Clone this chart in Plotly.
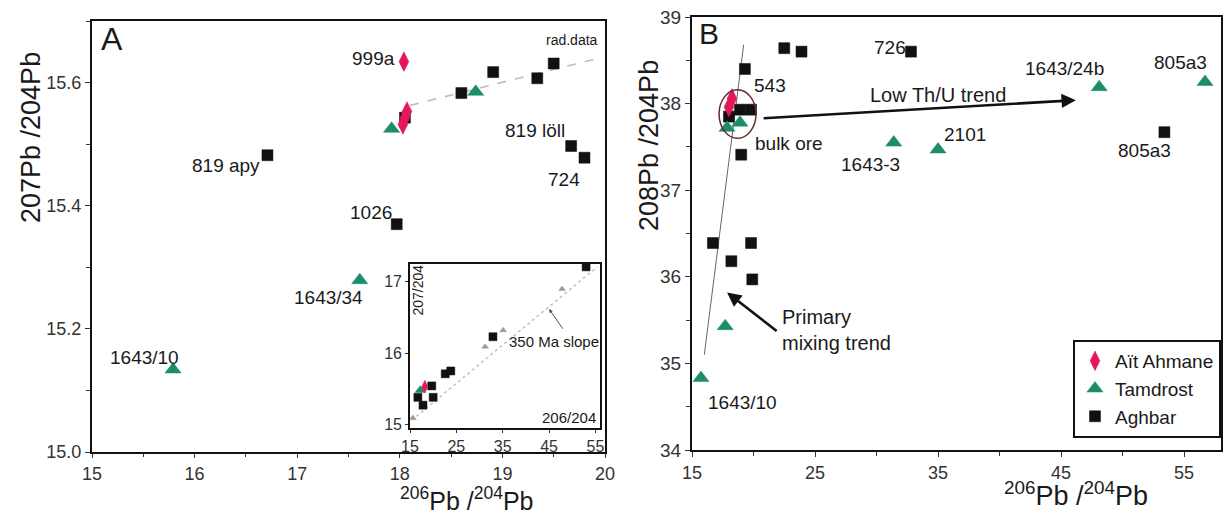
import plotly.graph_objects as go

W, H = 1224, 515
LAB = "Liberation Sans, Arial, Helvetica, sans-serif"
NAR = "Liberation Sans Narrow, Arial Narrow, Liberation Sans, sans-serif"
RED, GRN, BLK = "#e3185a", "#1d8c6c", "#111111"

# ---------------- Panel A: 206Pb/204Pb vs 207Pb/204Pb ----------------
a_ait_x = [18.04, 18.07, 18.05, 18.03]
a_ait_y = [15.634, 15.553, 15.543, 15.532]
a_tam_x = [15.79, 17.61, 17.92, 18.74]
a_tam_y = [15.134, 15.279, 15.525, 15.585]
a_agh_x = [16.71, 17.97, 18.05, 18.60, 18.91, 19.34, 19.50, 19.67, 19.80]
a_agh_y = [15.482, 15.370, 15.543, 15.583, 15.617, 15.607, 15.631, 15.497, 15.478]
a_trend_x = [18.10, 19.95]
a_trend_y = [15.563, 15.640]

# ---------------- Inset (panel A) ----------------
in_agh_x = [16.7, 17.8, 19.7, 20.0, 22.6, 23.8, 32.9, 53.0]
in_agh_y = [15.38, 15.27, 15.54, 15.38, 15.71, 15.75, 16.23, 17.21]
in_ait_x = [18.2]
in_ait_y = [15.53]
in_tam_x = [17.2]
in_tam_y = [15.48]
in_oth_x = [15.6, 31.2, 35.1, 47.8]
in_oth_y = [15.09, 16.09, 16.32, 16.90]
in_slope_x = [15.4, 55.4]
in_slope_y = [15.06, 17.21]

# ---------------- Panel B: 206Pb/204Pb vs 208Pb/204Pb ----------------
b_ait_x = [18.25, 18.0]
b_ait_y = [38.06, 37.96]
b_tam_x = [48.1, 56.7, 31.4, 35.0, 17.85, 18.9, 17.7, 15.73]
b_tam_y = [38.19, 38.25, 37.55, 37.47, 37.72, 37.78, 35.43, 34.83]
b_agh_x = [22.5, 23.9, 32.8, 19.3, 18.0, 18.9, 19.8, 19.0, 53.4, 16.7, 19.8, 18.2, 19.9]
b_agh_y = [38.64, 38.60, 38.60, 38.40, 37.85, 37.93, 37.93, 37.41, 37.67, 36.39, 36.39, 36.18, 35.97]
b_mix_x = [16.0, 19.2]
b_mix_y = [35.1, 38.68]
b_ell_x = [17.2, 20.2]
b_ell_y = [37.60, 38.16]

fig = go.Figure()

def pts(x, y, xa, ya, sym, col, size, name=None, show=False, lg=None):
    fig.add_trace(go.Scatter(
        x=x, y=y, xaxis=xa, yaxis=ya, mode="markers", name=name, showlegend=show,
        legendgroup=lg,
        marker=dict(symbol=sym, color=col, size=size,
                    line=dict(color=col, width=0.5)),
        hoverinfo="skip"))

# Panel A
fig.add_trace(go.Scatter(x=a_trend_x, y=a_trend_y, xaxis="x", yaxis="y", mode="lines",
                         line=dict(color="#bdbdbd", width=1.6, dash="dash"),
                         showlegend=False, hoverinfo="skip"))
pts(a_agh_x, a_agh_y, "x", "y", "square", BLK, 11)
pts(a_tam_x, a_tam_y, "x", "y", "triangle-up", GRN, 14)
pts(a_ait_x, a_ait_y, "x", "y", "diamond-tall", RED, 14)

# Inset
fig.add_trace(go.Scatter(x=in_slope_x, y=in_slope_y, xaxis="x3", yaxis="y3", mode="lines",
                         line=dict(color="#c4c4c4", width=1.6, dash="dot"),
                         showlegend=False, hoverinfo="skip"))
pts(in_oth_x, in_oth_y, "x3", "y3", "triangle-up", "#9a9a9a", 6)
pts(in_agh_x, in_agh_y, "x3", "y3", "square", BLK, 8)
pts(in_tam_x, in_tam_y, "x3", "y3", "triangle-up", GRN, 9)
pts(in_ait_x, in_ait_y, "x3", "y3", "diamond-tall", RED, 9)

# Panel B
fig.add_trace(go.Scatter(x=b_mix_x, y=b_mix_y, xaxis="x2", yaxis="y2", mode="lines",
                         line=dict(color="#666666", width=1),
                         showlegend=False, hoverinfo="skip"))
pts(b_agh_x, b_agh_y, "x2", "y2", "square", BLK, 11, "Aghbar", True, "g3")
pts(b_tam_x, b_tam_y, "x2", "y2", "triangle-up", GRN, 14, "Tamdrost", True, "g2")
pts(b_ait_x, b_ait_y, "x2", "y2", "diamond-tall", RED, 14, "Aït Ahmane", True, "g1")

def px(v):
    return v / W

def py(v):
    return 1 - v / H

ann = []

def lab(text, x, y, xref, yref, xanchor="center", xshift=0, yshift=0, size=19, fam=LAB, **kw):
    ann.append(dict(text=text, x=x, y=y, xref=xref, yref=yref, showarrow=False,
                    xanchor=xanchor, yanchor="middle", xshift=xshift, yshift=yshift,
                    font=dict(family=fam, size=size, color="#1a1a1a"), **kw))

# Panel A labels
lab("999a", a_ait_x[0], a_ait_y[0], "x", "y", "right", -7, 3)
lab("819 apy", a_agh_x[0], a_agh_y[0], "x", "y", "right", -5, -10)
lab("1026", a_agh_x[1], a_agh_y[1], "x", "y", "right", -3, 12)
lab("819 löll", a_agh_x[7], a_agh_y[7], "x", "y", "right", -4, 15)
lab("724", a_agh_x[8], a_agh_y[8], "x", "y", "center", -20, -22)
lab("1643/34", a_tam_x[1], a_tam_y[1], "x", "y", "center", -31, -17)
lab("1643/10", a_tam_x[0], a_tam_y[0], "x", "y", "center", -29, 12)
lab("rad.data", a_trend_x[1], a_trend_y[1], "x", "y", "center", -28, 18, 14, NAR)
lab("A", px(112), py(39), "paper", "paper", "center", size=32)

# Inset labels
lab("350 Ma slope", 46.1, 16.17, "x3", "y3", "center", size=15, fam=NAR)
lab("206/204", 55.6, 15.10, "x3", "y3", "right", size=15, fam=NAR)
lab("207/204", 16.7, 16.89, "x3", "y3", "center", size=14, fam=NAR, textangle=-90)
ann.append(dict(x=45.0, y=16.62, ax=48.2, ay=16.32, xref="x3", yref="y3", axref="x3", ayref="y3",
                showarrow=True, arrowhead=2, arrowsize=0.8, arrowwidth=1, arrowcolor="#555", text=""))

# Panel B labels
lab("726", b_agh_x[2], b_agh_y[2], "x2", "y2", "right", -3, 4)
lab("543", b_agh_x[3], b_agh_y[3], "x2", "y2", "left", 7, -17)
lab("bulk ore", b_ell_x[1], b_ell_y[0], "x2", "y2", "left", -3, -5)
lab("1643-3", b_tam_x[2], b_tam_y[2], "x2", "y2", "center", -23, -22)
lab("2101", b_tam_x[3], b_tam_y[3], "x2", "y2", "center", 27, 15)
lab("1643/24b", b_tam_x[0], b_tam_y[0], "x2", "y2", "center", -35, 19)
lab("805a3", b_tam_x[1], b_tam_y[1], "x2", "y2", "center", -25, 19)
lab("805a3", b_agh_x[8], b_agh_y[8], "x2", "y2", "center", -20, -18)
lab("1643/10", b_tam_x[7], b_tam_y[7], "x2", "y2", "left", 5, -24)
lab("B", px(709), py(34), "paper", "paper", "center", size=30)
lab("Low Th/U trend", 35.0, 38.065, "x2", "y2", "center", yshift=3, size=20)
lab("Primary<br>mixing trend", 22.15, 35.38, "x2", "y2", "left", size=20, align="left")
ann.append(dict(x=46.2, y=38.04, ax=20.7, ay=37.83, xref="x2", yref="y2", axref="x2", ayref="y2",
                showarrow=True, arrowhead=2, arrowsize=1.1, arrowwidth=2.6, arrowcolor=BLK, text=""))
ann.append(dict(x=17.85, y=35.82, ax=22.0, ay=35.36, xref="x2", yref="y2", axref="x2", ayref="y2",
                showarrow=True, arrowhead=2, arrowsize=1.1, arrowwidth=2.6, arrowcolor=BLK, text=""))

# Axis titles
lab("207Pb /204Pb", px(31), py(138), "paper", "paper", "center", size=27, textangle=-90)
lab("<sup>206</sup>Pb /<sup>204</sup>Pb", px(466), py(499), "paper", "paper", "center", size=25,
    borderpad=0)
lab("208Pb /204Pb", px(649), py(146), "paper", "paper", "center", size=27, textangle=-90)
lab("<sup>206</sup>Pb /<sup>204</sup>Pb", px(1076), py(494), "paper", "paper", "center", size=27)

def ax(domain, rng, dtick, tick0, minor, fmt, fsize, ffam, lw=2, ticklen=5, anchor=None):
    d = dict(domain=domain, range=rng, dtick=dtick, tick0=tick0, tickmode="linear",
             showgrid=False, zeroline=False, showline=True, mirror=True,
             linecolor="#111", linewidth=lw, ticks="outside", ticklen=ticklen,
             tickcolor="#333", tickwidth=1,
             tickfont=dict(family=ffam, size=fsize, color="#333"),
             tickformat=fmt, fixedrange=True, anchor=anchor)
    if minor:
        d["minor"] = dict(dtick=minor, ticks="outside", ticklen=ticklen - 1,
                          tickcolor="#333", tickwidth=1, showgrid=False)
    return d

fig.update_layout(
    width=W, height=H,
    margin=dict(l=0, r=0, t=0, b=0, autoexpand=False),
    paper_bgcolor="white", plot_bgcolor="white",
    xaxis=ax([px(92), px(605)], [15, 20], 1, 15, 0.5, "d", 18, NAR, ticklen=4, anchor="y"),
    yaxis=ax([py(452), py(21)], [15.0, 15.7], 0.2, 15.0, 0.1, ".1f", 18, NAR, anchor="x"),
    xaxis2=ax([px(692), px(1221)], [15, 58], 10, 15, 5, "d", 18, NAR, anchor="y2"),
    yaxis2=ax([py(450), py(17)], [34, 39], 1, 34, 0.5, "d", 19, LAB, anchor="x2"),
    xaxis3=ax([px(410), px(600)], [15, 56], 10, 15, None, "d", 16, NAR, 1.6, 3, anchor="y3"),
    yaxis3=ax([py(428), py(264)], [14.95, 17.25], 1, 15, None, "d", 16, NAR, 1.6, 3, anchor="x3"),
    shapes=[dict(type="circle", xref="x2", yref="y2", x0=b_ell_x[0], x1=b_ell_x[1],
                 y0=b_ell_y[0], y1=b_ell_y[1], line=dict(color="#6a2a2a", width=1.5))],
    annotations=ann,
    legend=dict(x=px(1221), xanchor="right", y=py(340), yanchor="top",
                bgcolor="white", bordercolor="#111", borderwidth=2,
                font=dict(family=LAB, size=19, color="#1a1a1a"),
                tracegroupgap=6, itemwidth=30, traceorder="reversed"),
    showlegend=True,
)

fig.write_html("out.html")
